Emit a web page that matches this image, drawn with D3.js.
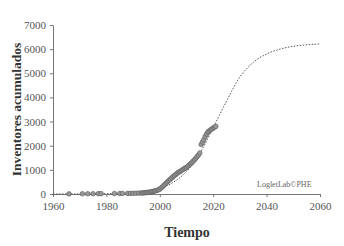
<!DOCTYPE html>
<html>
<head>
<meta charset="utf-8">
<script src="https://cdn.jsdelivr.net/npm/d3@7"></script>
<style>
  body { margin: 0; background: #fff; }
  svg text { font-family: "Liberation Serif", "DejaVu Serif", serif !important; }
</style>
</head>
<body>
<svg id="chart" width="344" height="246"></svg>
<script>
// observed cumulative inventors
const obsYears = [1966, 1971, 1973, 1975, 1977, 1978, 1983, 1985, 1986, 1988, 1989, 1990,
  1991, 1992, 1993, 1993.5, 1994, 1994.5, 1995, 1995.5, 1996, 1996.5, 1997, 1997.5,
  1998, 1998.5, 1999, 1999.5, 2000, 2000.5, 2001, 2001.5, 2002, 2002.5, 2003, 2003.5,
  2004, 2004.5, 2005, 2005.5, 2006, 2006.5, 2007, 2007.5, 2008, 2008.5, 2009, 2009.5,
  2010, 2010.5, 2011, 2011.5, 2012, 2012.5, 2013, 2013.5, 2014, 2014.5, 2015,
  2015.5, 2016, 2016.5, 2017, 2017.5, 2018, 2018.5, 2019, 2019.5, 2020, 2020.5, 2021];
const obsValues = [5, 8, 10, 12, 14, 15, 18, 20, 22, 24, 26, 28,
  32, 36, 40, 44, 48, 52, 58, 66, 75, 85, 96, 108,
  120, 135, 150, 175, 200, 250, 300, 355, 410, 465, 520, 570,
  620, 670, 720, 765, 810, 855, 900, 930, 960, 1000, 1040, 1070,
  1100, 1150, 1200, 1250, 1300, 1360, 1420, 1485, 1550, 1620, 1700,
  2050, 2150, 2250, 2380, 2480, 2570, 2610, 2660, 2690, 2730, 2770, 2800];

// fitted loglet curve
const fitYears = [1960, 1965, 1970, 1975, 1980, 1985, 1990, 1995, 2000, 2005, 2010,
  2015, 2020, 2025, 2030, 2035, 2040, 2045, 2050, 2055, 2060];
const fitValues = [0, 1, 3, 6, 12, 25, 50, 100, 230, 480, 930,
  1680, 2750, 3850, 4850, 5450, 5800, 6000, 6120, 6180, 6215];

const xTicks = [1960, 1980, 2000, 2020, 2040, 2060];
const yTicks = [0, 1000, 2000, 3000, 4000, 5000, 6000, 7000];

const svg = d3.select("#chart");
const x = d3.scaleLinear().domain([1960, 2060]).range([53, 320]);
const y = d3.scaleLinear().domain([0, 7000]).range([194, 25]);

const axisColor = "#777";

const gx = svg.append("g")
  .attr("transform", `translate(0,${y(0)})`)
  .call(d3.axisBottom(x).tickValues(xTicks).tickFormat(d3.format("d")).tickSize(3).tickSizeOuter(0));
const gy = svg.append("g")
  .attr("transform", `translate(${x(1960)},0)`)
  .call(d3.axisLeft(y).tickValues(yTicks).tickFormat(d3.format("d")).tickSize(3).tickSizeOuter(0));

[gx, gy].forEach(g => {
  g.attr("font-family", null);
  g.select(".domain").attr("stroke", axisColor);
  g.selectAll(".tick line").attr("stroke", axisColor);
  g.selectAll(".tick text")
    .attr("fill", "#555")
    .attr("font-size", 11);
});
gx.selectAll(".tick text").attr("dy", "0.95em");
gy.selectAll(".tick text").attr("dx", "-1px");

// fitted curve
const line = d3.line()
  .x((d, i) => x(fitYears[i]))
  .y(d => y(d))
  .curve(d3.curveMonotoneX);

svg.append("path")
  .datum(fitValues)
  .attr("fill", "none")
  .attr("stroke", "#444")
  .attr("stroke-width", 0.9)
  .attr("stroke-dasharray", "1.5,1.5")
  .attr("d", line);

// observed points
svg.append("g")
  .selectAll("circle")
  .data(obsValues)
  .join("circle")
  .attr("cx", (d, i) => x(obsYears[i]))
  .attr("cy", d => y(d))
  .attr("r", 2.3)
  .attr("fill", "#999")
  .attr("stroke", "#555")
  .attr("stroke-width", 0.6);

// labels
svg.append("text")
  .attr("transform", `translate(21,${(y(0) + y(7000)) / 2}) rotate(-90)`)
  .attr("text-anchor", "middle")
  .attr("font-weight", "bold")
  .attr("font-size", 13.5)
  .attr("fill", "#333")
  .text("Inventores acumulados");

svg.append("text")
  .attr("x", 187)
  .attr("y", 237)
  .attr("text-anchor", "middle")
  .attr("font-weight", "bold")
  .attr("font-size", 14)
  .attr("fill", "#333")
  .text("Tiempo");

svg.append("text")
  .attr("x", 257)
  .attr("y", 187)
  .attr("font-size", 8)
  .attr("fill", "#666")
  .text("LogletLab©PHE");
</script>
</body>
</html>
